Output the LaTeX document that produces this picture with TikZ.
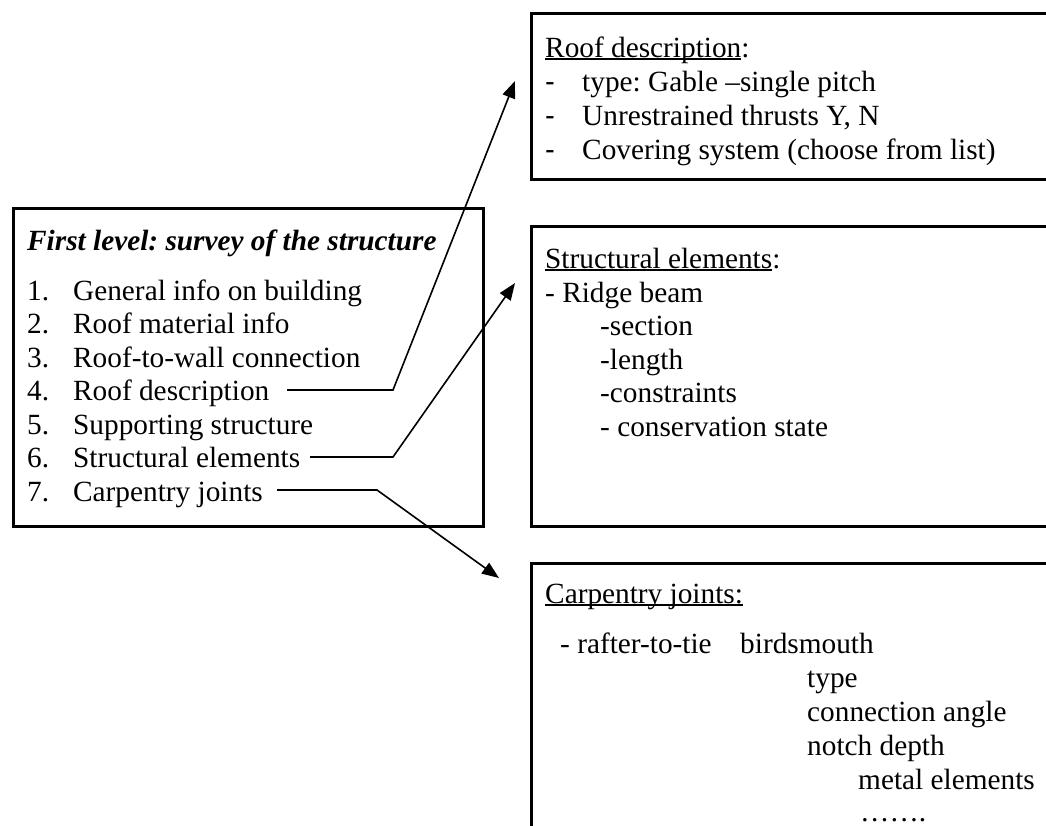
\documentclass[tikz,border=0pt]{standalone}
\usepackage{fontspec}
\setmainfont{Liberation Serif}
\newfontfamily\dashfont{Liberation Sans}
\usetikzlibrary{arrows.meta}
\frenchspacing
\newcommand\myul[1]{\setbox0\hbox{#1}\rlap{\rule[-3pt]{\wd0}{1.6pt}}\box0}
\newcommand\bigf{\fontsize{29.3}{33.7}\selectfont\frenchspacing}
\begin{document}
\begin{tikzpicture}[x=1pt,y=-1pt,
  frame/.style={draw, line width=2.6pt, inner sep=0pt, anchor=north west},
  txt/.style={anchor=base west, inner sep=0pt, font=\bigf},
  link/.style={line width=1.6pt},
  tip/.style={-{Triangle[length=17pt,width=13pt]}}]
\useasboundingbox (0,0) rectangle (1046,825);
\clip (0,0) rectangle (1046,825);

% frames
\node[frame, minimum width=470pt, minimum height=318pt] (survey) at (12,207) {};
\node[frame, minimum width=540pt, minimum height=166pt] (roof) at (530,12) {};
\node[frame, minimum width=540pt, minimum height=300pt] (struct) at (530,225) {};
\node[frame, minimum width=540pt, minimum height=300pt] (joints) at (530,562) {};

% left box text
\node[txt, font=\bigf\bfseries\itshape] (head) at (27,250) {First level: survey of the structure};
\node[txt] (it1) at (27,300) {\makebox[46pt][l]{1.}General info on building};
\node[txt] (it2) at (27,333.5) {\makebox[46pt][l]{2.}Roof material info};
\node[txt] (it3) at (27,367) {\makebox[46pt][l]{3.}Roof-to-wall connection};
\node[txt] (it4) at (27,400.5) {\makebox[46pt][l]{4.}Roof description};
\node[txt] (it5) at (27,434) {\makebox[46pt][l]{5.}Supporting structure};
\node[txt] (it6) at (27,467.5) {\makebox[46pt][l]{6.}Structural elements};
\node[txt] (it7) at (27,501) {\makebox[46pt][l]{7.}Carpentry joints};

% roof box text
\node[txt] (r0) at (545,57) {\myul{Roof description}:};
\node[txt] (r1d) at (545,91) {\dashfont -};
\node[txt] (r1) at (582,91) {type: Gable –single pitch};
\node[txt] (r2d) at (545,125) {\dashfont -};
\node[txt] (r2) at (582,125) {Unrestrained thrusts Y, N};
\node[txt] (r3d) at (545,159) {\dashfont -};
\node[txt] (r3) at (582,159) {Covering system (choose from list)};

% structural box text
\node[txt] (s0) at (545,268) {\myul{Structural elements}:};
\node[txt] (s1) at (545,302) {- Ridge beam};
\node[txt] (s2) at (600,335) {-section};
\node[txt] (s3) at (600,369) {-length};
\node[txt] (s4) at (600,402) {-constraints};
\node[txt] (s5) at (600,436) {- conservation state};

% joints box text
\node[txt] (j0) at (545,603) {\myul{Carpentry joints:}};
\node[txt] (j1) at (560,653) {- rafter-to-tie};
\node[txt] (j2) at (740,653) {birdsmouth};
\node[txt] (j3) at (807,687) {type};
\node[txt] (j4) at (807,721) {connection angle};
\node[txt] (j5) at (807,755) {notch depth};
\node[txt] (j6) at (858,789) {metal elements};
\node[txt] (j7) at (860,821) {…….};

% connectors
\coordinate (c4s) at (287,390);
\coordinate (c4b) at (393,390);
\coordinate (c4t) at (515,81);
\coordinate (c6s) at (310,457);
\coordinate (c6b) at (393,457);
\coordinate (c6t) at (515,283);
\coordinate (c7s) at (277,490);
\coordinate (c7b) at (377,490);
\coordinate (c7t) at (499,578);
\draw[link,tip] (c4s) -- (c4b) -- (c4t);
\draw[link,tip] (c6s) -- (c6b) -- (c6t);
\draw[link,tip] (c7s) -- (c7b) -- (c7t);
\end{tikzpicture}
\end{document}
